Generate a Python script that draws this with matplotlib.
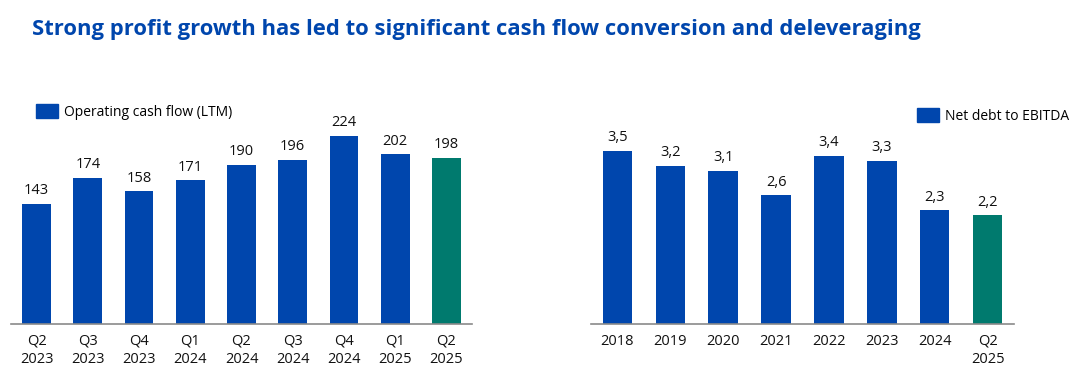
import matplotlib
matplotlib.use("Agg")
import matplotlib.pyplot as plt
from matplotlib.patches import Patch

# data
ocf_labels = ["Q2\n2023", "Q3\n2023", "Q4\n2023", "Q1\n2024", "Q2\n2024",
              "Q3\n2024", "Q4\n2024", "Q1\n2025", "Q2\n2025"]
ocf_values = [143, 174, 158, 171, 190, 196, 224, 202, 198]

lev_labels = ["2018", "2019", "2020", "2021", "2022", "2023", "2024", "Q2\n2025"]
lev_values = [3.5, 3.2, 3.1, 2.6, 3.4, 3.3, 2.3, 2.2]

BLUE = "#0046AD"
GREEN = "#007A6E"
FONT = ["Open Sans", "DejaVu Sans"]
plt.rcParams["font.family"] = FONT

W, H = 1088, 376
fig = plt.figure(figsize=(W / 100, H / 100), dpi=100)
fig.patch.set_facecolor("white")


def px_axes(x0, x1, y_top, y_base):
    return fig.add_axes([x0 / W, 1 - y_base / H, (x1 - x0) / W, (y_base - y_top) / H])


def draw(ax, labels, values, ymax, fmt, legend_label, leg_anchor):
    n = len(values)
    colors = [BLUE] * (n - 1) + [GREEN]
    ax.bar(range(n), values, width=0.56, color=colors)
    for i, v in enumerate(values):
        ax.annotate(fmt(v), (i, v), xytext=(0, 4), textcoords="offset points",
                    ha="center", va="bottom", fontsize=10.5, color="#111")
    ax.set_xlim(-0.5, n - 0.5)
    ax.set_ylim(0, ymax)
    ax.set_xticks(range(n))
    ax.set_xticklabels(labels, fontsize=10.5, color="#111", linespacing=1.3)
    ax.tick_params(axis="x", length=0, pad=7)
    ax.set_yticks([])
    for s in ("top", "right", "left"):
        ax.spines[s].set_visible(False)
    ax.spines["bottom"].set_color("#8a8a8a")
    ax.spines["bottom"].set_linewidth(1.2)
    ax.legend(handles=[Patch(color=BLUE, label=legend_label)], loc="upper left",
              bbox_to_anchor=leg_anchor, bbox_transform=fig.transFigure,
              frameon=False, fontsize=10, handlelength=1.6, handleheight=1.2,
              handletextpad=0.4, borderaxespad=0, borderpad=0)


ax1 = px_axes(11, 472, 100, 324)
draw(ax1, ocf_labels, ocf_values, 224 * 224 / 188, lambda v: f"{v}",
     "Operating cash flow (LTM)", (36 / W, 1 - 104 / H))

ax2 = px_axes(591, 1014, 100, 324)
draw(ax2, lev_labels, lev_values, 224 / 49.5, lambda v: f"{v:.1f}".replace(".", ","),
     "Net debt to EBITDA", (917 / W, 1 - 108 / H))

fig.text(32 / W, 1 - 30 / H, "Strong profit growth has led to significant cash flow conversion and deleveraging",
         fontsize=15.8, fontweight="bold", color=BLUE, ha="left", va="center")

fig.savefig("out.png", dpi=100, facecolor=fig.get_facecolor())
